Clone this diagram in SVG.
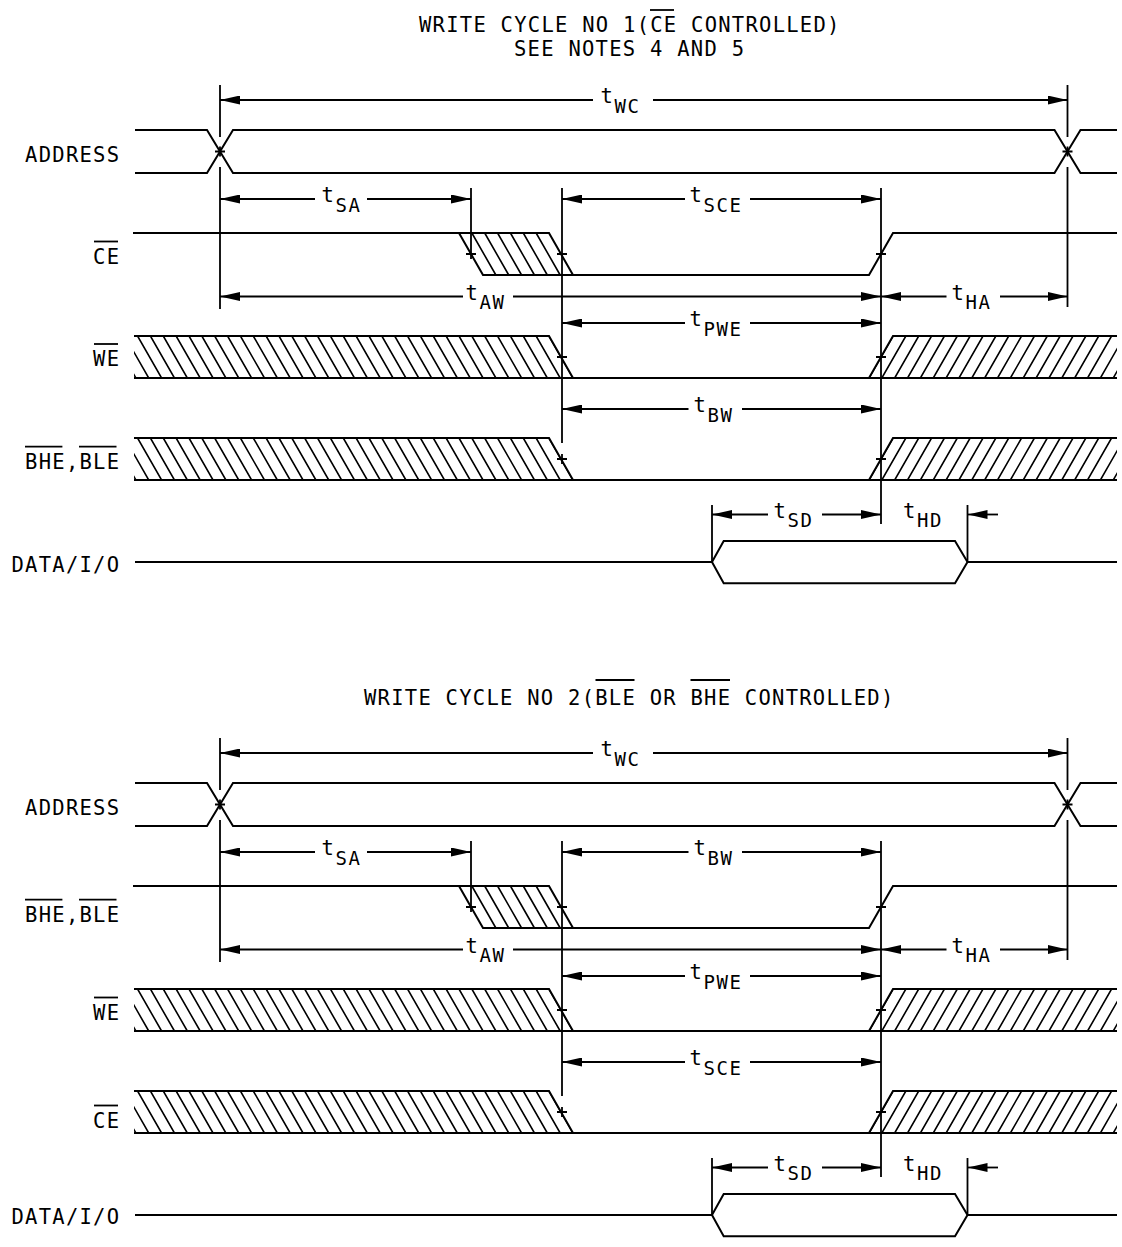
<svg xmlns="http://www.w3.org/2000/svg" xmlns:xlink="http://www.w3.org/1999/xlink" width="1122" height="1247" viewBox="0 0 1122 1247">
<style>
.sig{fill:none;stroke:#000;stroke-width:2;stroke-linejoin:miter}
.dim{fill:none;stroke:#000;stroke-width:1.8}
.hatch{fill:none;stroke:#000;stroke-width:1.6}
.as{marker-start:url(#ah)}
.ae{marker-end:url(#ah)}
.ob{stroke:#000;stroke-width:1.8}
text{font-family:"DejaVu Sans Mono","Liberation Mono",monospace;fill:#000}
.lb{font-size:20.5px;letter-spacing:1.26px}
.sb{font-size:19px;letter-spacing:1.6px}
</style>
<defs>
<marker id="ah" viewBox="0 0 20 9" refX="20" refY="4.5" markerWidth="20" markerHeight="9" markerUnits="userSpaceOnUse" orient="auto-start-reverse"><path d="M0,0L20,4.5L0,9z" fill="#000"/></marker>
<path id="hL" d="M549,0l24,42M536.14,0l24,42M523.29,0l24,42M510.43,0l24,42M497.57,0l24,42M484.71,0l24,42M471.86,0l24,42M459,0l24,42M446.14,0l24,42M433.29,0l24,42M420.43,0l24,42M407.57,0l24,42M394.71,0l24,42M381.86,0l24,42M369,0l24,42M356.14,0l24,42M343.29,0l24,42M330.43,0l24,42M317.57,0l24,42M304.71,0l24,42M291.86,0l24,42M279,0l24,42M266.14,0l24,42M253.29,0l24,42M240.43,0l24,42M227.57,0l24,42M214.71,0l24,42M201.86,0l24,42M189,0l24,42M176.14,0l24,42M163.29,0l24,42M150.43,0l24,42M137.57,0l24,42M124.71,0l24,42M111.86,0l24,42"/>
<path id="hR" d="M869,42l24,-42M881.86,42l24,-42M894.71,42l24,-42M907.57,42l24,-42M920.43,42l24,-42M933.29,42l24,-42M946.14,42l24,-42M959,42l24,-42M971.86,42l24,-42M984.71,42l24,-42M997.57,42l24,-42M1010.43,42l24,-42M1023.29,42l24,-42M1036.14,42l24,-42M1049,42l24,-42M1061.86,42l24,-42M1074.71,42l24,-42M1087.57,42l24,-42M1100.43,42l24,-42M1113.29,42l24,-42"/>
<path id="hT" d="M536.14,0l24,42M523.29,0l24,42M510.43,0l24,42M497.57,0l24,42M484.71,0l24,42M471.86,0l24,42"/>
<clipPath id="cL"><polygon points="134,0 549,0 573,42 134,42"/></clipPath>
<clipPath id="cR"><polygon points="869,42 893,0 1117,0 1117,42"/></clipPath>
<path id="oH" d="M134,0H549L573,42M869,42L893,0H1117M134,42H1117"/>
<path id="oC" d="M133,0H549L573,42M459,0L483,42H869L893,0H1117"/>
<path id="oA" d="M135,130H207L233,173H1054.5L1080.5,130H1117M135,173H207L233,130H1054.5L1080.5,173H1117"/>
<path id="oD" d="M135,562H712L723.7,541H955L967.5,562L955,583.3H723.7L712,562M967.5,562H1117"/>
<path id="vt" d="M220,85V137M220,167V309M1067.5,85V137M1067.5,167V307M471,188V254M562,188V443M881,188V524M712,505V562M967.5,505V562M215,151.5h10M220,146.5v10M1062.5,151.5h10M1067.5,146.5v10M466,254h10M471,249v10M557,254h10M562,249v10M876,254h10M881,249v10M557,357h10M562,352v10M876,357h10M881,352v10M557,459h10M562,454v10M876,459h10M881,454v10"/>
</defs>
<rect width="1122" height="1247" fill="#fff"/>

<g id="title-1">
<text class="lb" x="419" y="32">WRITE CYCLE NO 1(CE CONTROLLED)</text>
<line class="ob" x1="650" y1="10" x2="674" y2="10"/>
<text class="lb" x="514" y="56">SEE NOTES 4 AND 5</text>
</g>

<g id="diagram-1">
<g id="d1-address">
<text class="lb" x="25.1" y="161.7">ADDRESS</text>
<use xlink:href="#oA" class="sig"/>
</g>
<g id="d1-ce">
<text class="lb" x="93.1" y="263.5">CE</text>
<line class="ob" x1="94" y1="241.5" x2="118" y2="241.5"/>
<g transform="translate(0,233)">
<use xlink:href="#oC" class="sig"/>
<use xlink:href="#hT" class="hatch"/>
</g>
</g>
<g id="d1-we">
<text class="lb" x="93.1" y="366">WE</text>
<line class="ob" x1="94" y1="344" x2="118" y2="344"/>
<g transform="translate(0,336)">
<use xlink:href="#hL" class="hatch" clip-path="url(#cL)"/>
<use xlink:href="#hR" class="hatch" clip-path="url(#cR)"/>
<use xlink:href="#oH" class="sig"/>
</g>
</g>
<g id="d1-bhe-ble">
<text class="lb" x="25.1" y="468.7">BHE,BLE</text>
<line class="ob" x1="25" y1="446.7" x2="62.4" y2="446.7"/>
<line class="ob" x1="79" y1="446.7" x2="116.5" y2="446.7"/>
<g transform="translate(0,438)">
<use xlink:href="#hL" class="hatch" clip-path="url(#cL)"/>
<use xlink:href="#hR" class="hatch" clip-path="url(#cR)"/>
<use xlink:href="#oH" class="sig"/>
</g>
</g>
<g id="d1-data">
<text class="lb" x="11.5" y="571.7">DATA/I/O</text>
<use xlink:href="#oD" class="sig"/>
</g>
<g id="d1-timing">
<use xlink:href="#vt" class="dim"/>
<path class="dim as" d="M220,100H593"/><path class="dim ae" d="M653,100H1067.5"/>
<text class="lb" x="600.5" y="103">t</text><text class="sb" x="614.5" y="112.5">WC</text>
<path class="dim as" d="M220,199H315"/><path class="dim ae" d="M367,199H471"/>
<text class="lb" x="321.5" y="202">t</text><text class="sb" x="335.5" y="211.5">SA</text>
<path class="dim as" d="M562,199H685"/><path class="dim ae" d="M750,199H881"/>
<text class="lb" x="689.5" y="202">t</text><text class="sb" x="703.5" y="211.5">SCE</text>
<path class="dim as" d="M220,296.5H463"/><path class="dim ae" d="M513,296.5H881"/>
<text class="lb" x="465.5" y="299.5">t</text><text class="sb" x="479.5" y="309">AW</text>
<path class="dim as" d="M881,296.5H946.5"/><path class="dim ae" d="M1000,296.5H1067.5"/>
<text class="lb" x="951.5" y="299.5">t</text><text class="sb" x="965.5" y="309">HA</text>
<path class="dim as" d="M562,323H685"/><path class="dim ae" d="M750,323H881"/>
<text class="lb" x="689.5" y="326">t</text><text class="sb" x="703.5" y="335.5">PWE</text>
<path class="dim as" d="M562,409H688.5"/><path class="dim ae" d="M742,409H881"/>
<text class="lb" x="693.5" y="412">t</text><text class="sb" x="707.5" y="421.5">BW</text>
<path class="dim as" d="M712,514.5H768"/><path class="dim ae" d="M822,514.5H881"/>
<text class="lb" x="773.5" y="517.5">t</text><text class="sb" x="787.5" y="527">SD</text>
<path class="dim ae" d="M998,514.5H967.5"/>
<text class="lb" x="903" y="517.5">t</text><text class="sb" x="917" y="527">HD</text>
</g>
</g>

<g id="title-2">
<text class="lb" x="364" y="705">WRITE CYCLE NO 2(BLE OR BHE CONTROLLED)</text>
<line class="ob" x1="595.5" y1="680" x2="634.5" y2="680"/>
<line class="ob" x1="690.5" y1="680" x2="730" y2="680"/>
</g>

<g id="diagram-2" transform="translate(0,653)">
<g id="d2-address">
<text class="lb" x="25.1" y="161.5">ADDRESS</text>
<use xlink:href="#oA" class="sig"/>
</g>
<g id="d2-bhe-ble">
<text class="lb" x="25.1" y="268.7">BHE,BLE</text>
<line class="ob" x1="25" y1="246.7" x2="62.4" y2="246.7"/>
<line class="ob" x1="79" y1="246.7" x2="116.5" y2="246.7"/>
<g transform="translate(0,233)">
<use xlink:href="#oC" class="sig"/>
<use xlink:href="#hT" class="hatch"/>
</g>
</g>
<g id="d2-we">
<text class="lb" x="93.1" y="366.5">WE</text>
<line class="ob" x1="94" y1="344.5" x2="118" y2="344.5"/>
<g transform="translate(0,336)">
<use xlink:href="#hL" class="hatch" clip-path="url(#cL)"/>
<use xlink:href="#hR" class="hatch" clip-path="url(#cR)"/>
<use xlink:href="#oH" class="sig"/>
</g>
</g>
<g id="d2-ce">
<text class="lb" x="93.1" y="474.5">CE</text>
<line class="ob" x1="94" y1="452.5" x2="118" y2="452.5"/>
<g transform="translate(0,438)">
<use xlink:href="#hL" class="hatch" clip-path="url(#cL)"/>
<use xlink:href="#hR" class="hatch" clip-path="url(#cR)"/>
<use xlink:href="#oH" class="sig"/>
</g>
</g>
<g id="d2-data">
<text class="lb" x="11.5" y="571">DATA/I/O</text>
<use xlink:href="#oD" class="sig"/>
</g>
<g id="d2-timing">
<use xlink:href="#vt" class="dim"/>
<path class="dim as" d="M220,100H593"/><path class="dim ae" d="M653,100H1067.5"/>
<text class="lb" x="600.5" y="103">t</text><text class="sb" x="614.5" y="112.5">WC</text>
<path class="dim as" d="M220,199H315"/><path class="dim ae" d="M367,199H471"/>
<text class="lb" x="321.5" y="202">t</text><text class="sb" x="335.5" y="211.5">SA</text>
<path class="dim as" d="M562,199H688.5"/><path class="dim ae" d="M742,199H881"/>
<text class="lb" x="693.5" y="202">t</text><text class="sb" x="707.5" y="211.5">BW</text>
<path class="dim as" d="M220,296.5H463"/><path class="dim ae" d="M513,296.5H881"/>
<text class="lb" x="465.5" y="299.5">t</text><text class="sb" x="479.5" y="309">AW</text>
<path class="dim as" d="M881,296.5H946.5"/><path class="dim ae" d="M1000,296.5H1067.5"/>
<text class="lb" x="951.5" y="299.5">t</text><text class="sb" x="965.5" y="309">HA</text>
<path class="dim as" d="M562,323H685"/><path class="dim ae" d="M750,323H881"/>
<text class="lb" x="689.5" y="326">t</text><text class="sb" x="703.5" y="335.5">PWE</text>
<path class="dim as" d="M562,409H685"/><path class="dim ae" d="M750,409H881"/>
<text class="lb" x="689.5" y="412">t</text><text class="sb" x="703.5" y="421.5">SCE</text>
<path class="dim as" d="M712,514.5H768"/><path class="dim ae" d="M822,514.5H881"/>
<text class="lb" x="773.5" y="517.5">t</text><text class="sb" x="787.5" y="527">SD</text>
<path class="dim ae" d="M998,514.5H967.5"/>
<text class="lb" x="903" y="517.5">t</text><text class="sb" x="917" y="527">HD</text>
</g>
</g>
</svg>
